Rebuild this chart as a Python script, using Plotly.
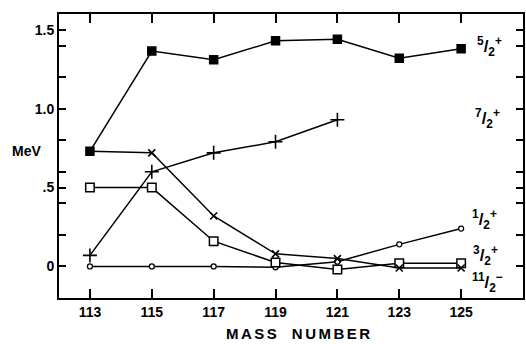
import plotly.graph_objects as go

# Mass numbers and level energies (MeV)
mass = [113, 115, 117, 119, 121, 123, 125]
mass_72 = [113, 115, 117, 119, 121]

e_52 = [0.73, 1.365, 1.31, 1.43, 1.44, 1.32, 1.38]      # 5/2+
e_72 = [0.07, 0.60, 0.72, 0.79, 0.93]                  # 7/2+
e_112 = [0.73, 0.72, 0.32, 0.08, 0.05, -0.01, -0.01]   # 11/2-
e_32 = [0.50, 0.50, 0.16, 0.025, -0.02, 0.02, 0.02]    # 3/2+
e_12 = [0.0, 0.0, 0.0, -0.005, 0.03, 0.14, 0.24]       # 1/2+

x_ticks = [113, 115, 117, 119, 121, 123, 125]
y_ticks = [0, 0.2, 0.4, 0.5, 0.6, 0.8, 1.0, 1.2, 1.4, 1.5]
y_ticktext = ["0", "", "", ".5", "", "", "1.0", "", "", "1.5"]

FONT = "Liberation Sans"
LW = 1.5
W, H = 526, 344
ML, MR, MT, MB = 59, 1, 14, 46
PW, PH = W - ML - MR, H - MT - MB

fig = go.Figure()

def add_series(xs, ys, symbol, size, fill, lw=1.5):
    fig.add_trace(go.Scatter(
        x=xs, y=ys, mode="lines+markers",
        line=dict(color="black", width=LW),
        marker=dict(symbol=symbol, size=size, color=fill,
                    line=dict(color="black", width=lw)),
        showlegend=False, hoverinfo="skip", cliponaxis=False,
    ))

add_series(mass, e_12, "circle", 5, "white", 1.3)
add_series(mass, e_32, "square", 8.5, "white", 1.5)
add_series(mass, e_112, "x-thin", 7, "black", 1.6)
add_series(mass_72, e_72, "cross-thin", 10, "black", 1.6)
add_series(mass, e_52, "square", 8, "black", 1.5)


def px_text(text, px, py, size=13, bold=True):
    """Place text centred at a pixel position of the figure."""
    fig.add_annotation(x=(px - ML) / PW, y=(H - MB - py) / PH,
                       xref="paper", yref="paper",
                       text=f"<b>{text}</b>" if bold else text,
                       showarrow=False, borderpad=0,
                       font=dict(family=FONT, size=size, color="black"),
                       xanchor="center", yanchor="middle")


# Spin-parity labels beside each curve: numerator, denominator, sign, pixel centre
spin_labels = [
    ("5", "2", "+", (491, 47)),
    ("7", "2", "+", (489, 119)),
    ("1", "2", "+", (486, 220)),
    ("3", "2", "+", (487, 255)),
    ("11", "2", "\u2212", (489, 282)),
]
for num, den, sign, (cx, cy) in spin_labels:
    px_text(f"<sup>{num}</sup>/<sub>{den}</sub><sup>{sign}</sup>", cx, cy, 17)

px_text("MeV", 26, 151, 14)
px_text("\u2006".join("MASS") + "\u2003" + "\u2006".join("NUMBER"), 299, 333, 15)

axis_common = dict(showline=True, linecolor="black", linewidth=2, mirror="ticks",
                   ticks="inside", tickcolor="black", tickwidth=1.5,
                   showgrid=False, zeroline=False,
                   tickfont=dict(family=FONT, size=14, color="black"))

fig.update_xaxes(range=[112, 127], tickvals=x_ticks,
                 ticktext=[f"<b>{v}</b>" for v in x_ticks], ticklen=9, **axis_common)
fig.update_yaxes(range=[-0.2, 1.6], tickvals=y_ticks,
                 ticktext=[f"<b>{t}</b>" if t else "" for t in y_ticktext],
                 ticklen=7, **axis_common)

fig.update_layout(width=W, height=H, plot_bgcolor="white", paper_bgcolor="white",
                  margin=dict(l=ML, r=MR, t=MT, b=MB))

fig.write_html("out.html")
